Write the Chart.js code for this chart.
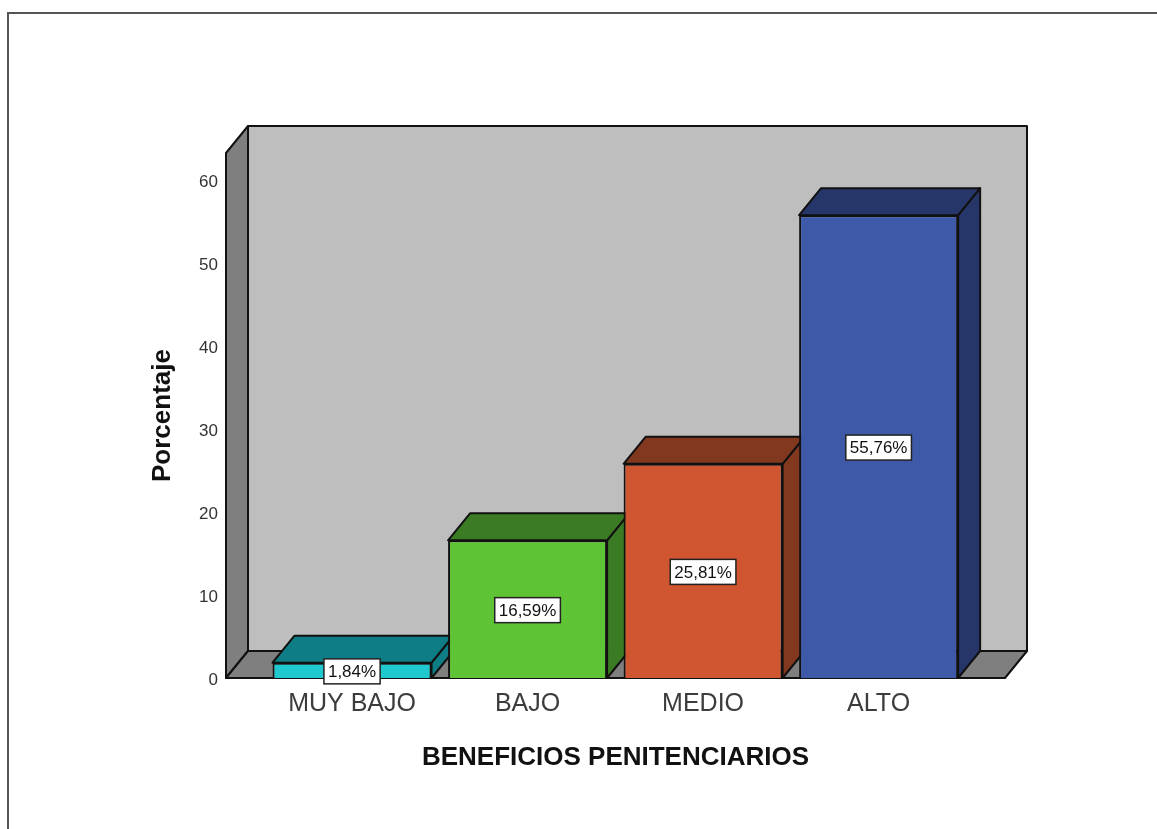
<!DOCTYPE html>
<html lang="es">
<head>
    <meta charset="UTF-8">
    <title>Beneficios penitenciarios</title>
    <style type="text/css">
        html, body { margin: 0; padding: 0; background: #fff; overflow: hidden; }
        #marco {
            position: absolute; left: 7px; top: 12px; right: 0; bottom: 0;
            border-left: 2px solid #555; border-top: 2px solid #555;
        }
        #grafico { position: absolute; left: 0; top: 0; }
    </style>
</head>
<body>
    <div id="marco"></div>
    <canvas id="grafico" width="1157" height="829"></canvas>

    <script src="https://cdn.jsdelivr.net/npm/chart.js"></script>
    <script>
    // data
    const categorias = ['MUY BAJO', 'BAJO', 'MEDIO', 'ALTO'];
    const porcentajes = [1.84, 16.59, 25.81, 55.76];
    const colorFrente = ['#1fc8ce', '#5fc435', '#d05531', '#3e59a8'];
    const colorLado = ['#0f7d85', '#3a7b23', '#82371f', '#263669'];
    const ticksY = [0, 10, 20, 30, 40, 50, 60];

    const fuente = '"Liberation Sans", Arial, sans-serif';
    const linea = '#111';
    const fondoX = 22, fondoY = 27;   // 3d depth in px

    function cara(ctx, puntos, relleno) {
        ctx.beginPath();
        puntos.forEach((p, i) => i ? ctx.lineTo(p[0], p[1]) : ctx.moveTo(p[0], p[1]));
        ctx.closePath();
        ctx.fillStyle = relleno;
        ctx.fill();
        ctx.stroke();
    }

    // walls, floor and the sides of the bars
    const caja3d = {
        id: 'caja3d',
        beforeDatasetsDraw(chart) {
            const ctx = chart.ctx;
            const { left, right, top, bottom } = chart.chartArea;
            ctx.save();
            ctx.strokeStyle = linea;
            ctx.lineWidth = 2;
            ctx.lineJoin = 'round';
            cara(ctx, [[left + fondoX, top - fondoY], [right + fondoX, top - fondoY], [right + fondoX, bottom - fondoY], [left + fondoX, bottom - fondoY]], '#bebebe');
            cara(ctx, [[left, top], [left + fondoX, top - fondoY], [left + fondoX, bottom - fondoY], [left, bottom]], '#7f7f7f');
            cara(ctx, [[left, bottom], [left + fondoX, bottom - fondoY], [right + fondoX, bottom - fondoY], [right, bottom]], '#7f7f7f');

            chart.getDatasetMeta(0).data.forEach((bar, i) => {
                const x0 = bar.x - bar.width / 2, x1 = bar.x + bar.width / 2;
                const y0 = bar.y, y1 = bar.base;
                cara(ctx, [[x1, y0], [x1 + fondoX, y0 - fondoY], [x1 + fondoX, y1 - fondoY], [x1, y1]], colorLado[i]);
                cara(ctx, [[x0, y0], [x0 + fondoX, y0 - fondoY], [x1 + fondoX, y0 - fondoY], [x1, y0]], colorLado[i]);
            });
            ctx.restore();
        },
        afterDatasetsDraw(chart) {
            const ctx = chart.ctx;
            ctx.save();
            ctx.font = '17px ' + fuente;
            ctx.textAlign = 'center';
            ctx.textBaseline = 'middle';
            chart.getDatasetMeta(0).data.forEach((bar, i) => {
                const texto = porcentajes[i].toFixed(2).replace('.', ',') + '%';
                const w = ctx.measureText(texto).width + 8, h = 25;
                const cy = (bar.y + bar.base) / 2 + 1;
                ctx.fillStyle = '#fff';
                ctx.strokeStyle = '#222';
                ctx.lineWidth = 1.5;
                ctx.fillRect(bar.x - w / 2, cy - h / 2, w, h);
                ctx.strokeRect(bar.x - w / 2, cy - h / 2, w, h);
                ctx.fillStyle = '#111';
                ctx.fillText(texto, bar.x, cy + 1);
            });
            ctx.restore();
        }
    };

    const myChart = new Chart(document.getElementById('grafico'), {
        type: 'bar',
        data: {
            datasets: [{
                data: categorias.map((c, i) => ({ x: i, y: porcentajes[i] })),
                backgroundColor: colorFrente,
                borderColor: linea,
                borderWidth: 2,
                categoryPercentage: 0.906,
                barPercentage: 1
            }]
        },
        plugins: [caja3d],
        options: {
            responsive: false,
            animation: false,
            layout: { padding: { left: 147, right: 152, top: 153, bottom: 56 } },
            plugins: { legend: { display: false }, tooltip: { enabled: false } },
            scales: {
                x: {
                    type: 'linear',
                    offset: false,
                    min: -0.718,
                    max: 3.72,
                    grid: { display: false, drawTicks: false },
                    border: { display: false },
                    afterBuildTicks: scale => { scale.ticks = categorias.map((c, i) => ({ value: i })); },
                    afterFit: scale => { scale.height = 95; },
                    ticks: {
                        autoSkip: false,
                        maxRotation: 0,
                        padding: 11,
                        color: '#3c3c3c',
                        font: { family: fuente, size: 25 },
                        callback: v => categorias[v]
                    },
                    title: {
                        display: true,
                        text: 'BENEFICIOS PENITENCIARIOS',
                        color: '#111',
                        font: { family: fuente, size: 26, weight: 'bold' },
                        padding: { top: 22, bottom: 0 }
                    }
                },
                y: {
                    min: 0,
                    max: 63.25,
                    grid: { display: false, drawTicks: false },
                    border: { display: false },
                    afterBuildTicks: scale => { scale.ticks = ticksY.map(v => ({ value: v })); },
                    afterFit: scale => { scale.width = 79; },
                    ticks: {
                        padding: 8,
                        labelOffset: 2,
                        color: '#333',
                        font: { family: fuente, size: 17 }
                    },
                    title: {
                        display: true,
                        text: 'Porcentaje',
                        color: '#111',
                        font: { family: fuente, size: 26, weight: 'bold' },
                        padding: { top: 0, bottom: 0 }
                    }
                }
            }
        }
    });
    </script>
</body>
</html>
